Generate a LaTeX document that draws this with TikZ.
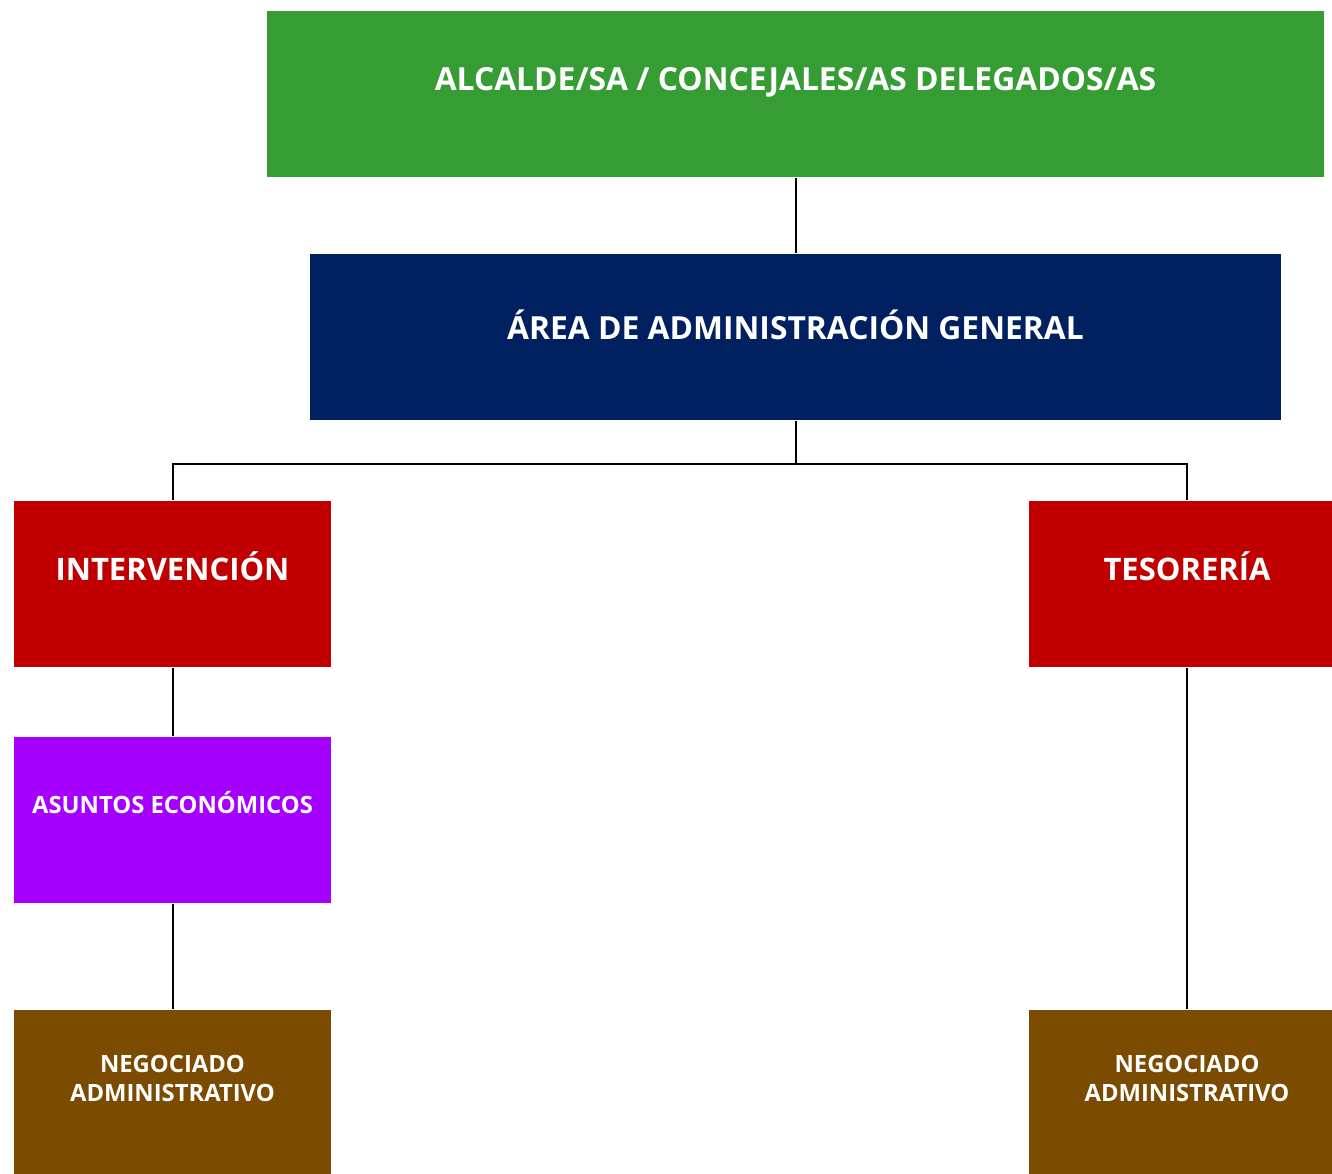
\documentclass[tikz,border=0pt]{standalone}
\usepackage{fontspec}
\setmainfont{Open Sans}
\definecolor{verde}{HTML}{369D35}
\definecolor{marino}{HTML}{002060}
\definecolor{rojo}{HTML}{C00000}
\definecolor{morado}{HTML}{A500FF}
\definecolor{marron}{HTML}{7A4B00}
\tikzset{
	every unidad/.style={rectangle, inner sep=0pt, minimum height=166pt, minimum width=317pt},
	unidad ancha/.style={minimum width=1057pt},
	unidad media/.style={minimum width=971pt},
	every rotulo/.style={text=white, font=\bfseries, align=center},
	rotulo grande/.style={font=\bfseries\fontsize{31.8}{38}\selectfont},
	rotulo medio/.style={font=\bfseries\fontsize{31}{37}\selectfont},
	rotulo chico/.style={font=\bfseries\fontsize{23.8}{29}\selectfont}
}
\begin{document}
\begin{tikzpicture}[x=1pt, y=-1pt, line width=2pt]
		\useasboundingbox (0,0) rectangle (1332,1173);

		\node [every unidad/.try, unidad ancha/.try, fill=verde] (alcalde) at (795.5,94) {};
		\node [every unidad/.try, unidad media/.try, fill=marino] (area) at (795.5,337) {};

		\foreach \n/\c/\x/\y in {interv/rojo/172.5/584, teso/rojo/1187/584, asuntos/morado/172.5/820, nego-1/marron/172.5/1093, nego-2/marron/1187/1093}
		\node [every unidad/.try, fill=\c] (\n) at (\x,\y) {};

		\node [every rotulo/.try, rotulo grande] (alcalde-t) at ([yshift=12pt]alcalde.center) {ALCALDE/SA / CONCEJALES/AS DELEGADOS/AS};
		\node [every rotulo/.try, rotulo grande] (area-t) at ([yshift=12pt]area.center) {ÁREA DE ADMINISTRACIÓN GENERAL};
		\node [every rotulo/.try, rotulo medio] (interv-t) at ([yshift=18pt]interv.center) {INTERVENCIÓN};
		\node [every rotulo/.try, rotulo medio] (teso-t) at ([yshift=18pt]teso.center) {TESORERÍA};
		\node [every rotulo/.try, rotulo chico] (asuntos-t) at ([yshift=17pt]asuntos.center) {ASUNTOS ECONÓMICOS};

		\foreach \i in {1,2}
		\node [every rotulo/.try, rotulo chico] (nego-\i-t) at ([yshift=15pt]nego-\i.center) {NEGOCIADO\\ADMINISTRATIVO};

		\coordinate (bus) at (795.5,464);

		\draw (alcalde) -- (area);
		\draw (area) -- (bus) -| (interv);
		\draw (bus) -| (teso);
		\draw (interv) -- (asuntos);
		\draw (asuntos) -- (nego-1);
		\draw (teso) -- (nego-2);
	\end{tikzpicture}
\end{document}
